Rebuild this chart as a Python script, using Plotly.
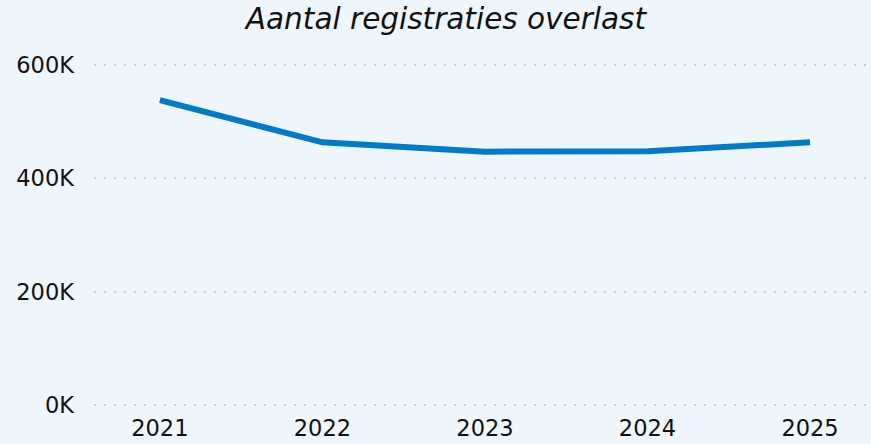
import plotly.graph_objects as go

years = ["2021", "2022", "2023", "2024", "2025"]
registraties = [538000, 463500, 447000, 448000, 463500]
y_tickvals = [0, 200000, 400000, 600000]
y_ticktext = ["0K", "200K", "400K", "600K"]
title_text = "Aantal registraties overlast"

BG = "#EEF6FC"
FONT = "DejaVu Sans, Verdana, sans-serif"

# small padding (in data units) so the 0K and 600K gridlines are drawn inside the plot area
pad = 2 * 600000 / 340

fig = go.Figure()
fig.add_trace(go.Scatter(
    x=years, y=registraties, mode="lines",
    line=dict(color="#007AC9", width=6),
    hoverinfo="skip",
))

fig.update_layout(
    width=871, height=444,
    paper_bgcolor=BG, plot_bgcolor=BG,
    margin=dict(l=94, r=0, t=63, b=37),
    showlegend=False,
    font=dict(family=FONT, size=22.5, color="#111111"),
    title=dict(
        text="<i>" + title_text + "</i>",
        font=dict(family=FONT, size=29.5, color="#111111"),
        x=0.512, xanchor="center", y=1 - 19 / 444, yref="container", yanchor="middle",
    ),
)
fig.update_xaxes(
    type="category", range=[-0.405, 4.375],
    showgrid=False, zeroline=False, showline=False, ticks="",
    tickfont=dict(size=22.5), ticklabelstandoff=5,
)
fig.update_yaxes(
    range=[-pad, 600000 + pad], tickvals=y_tickvals, ticktext=y_ticktext,
    showgrid=True, gridcolor="#C9CFD0", gridwidth=1.5, griddash="2px,8px",
    zeroline=False, showline=False, ticks="",
    tickfont=dict(size=22.5), ticklabelstandoff=19,
)

fig.write_html(
    "out.html",
    config={"displayModeBar": False},
    post_script="document.body.style.margin='0';document.body.style.background='#EEF6FC';",
)
